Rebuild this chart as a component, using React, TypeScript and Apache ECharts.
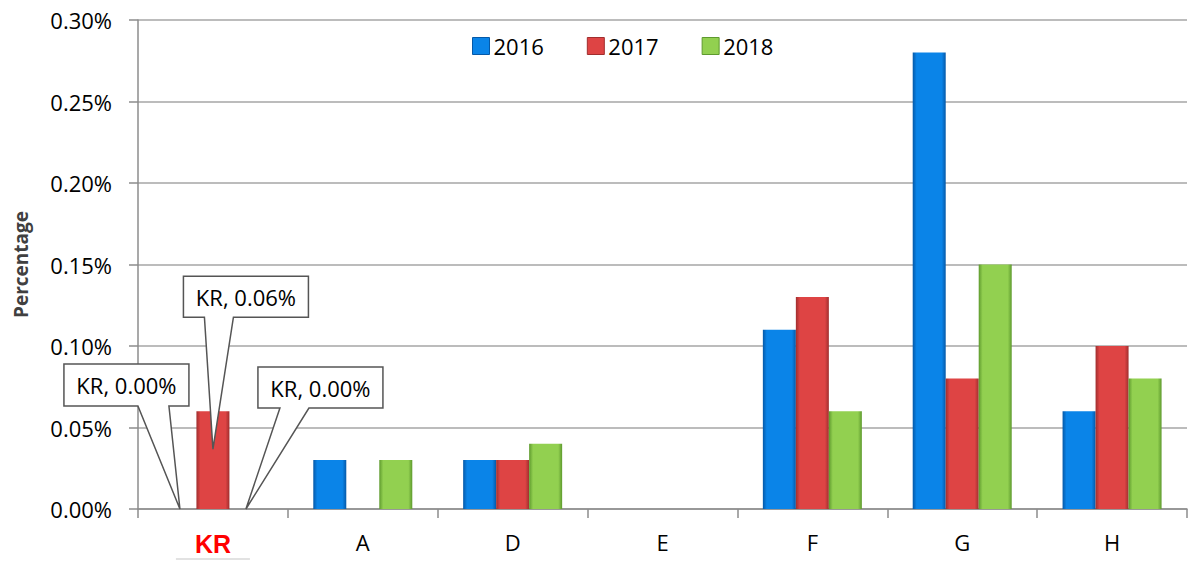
import React, { useEffect, useRef } from "react";
import * as echarts from "echarts";

const categories = ["KR", "A", "D", "E", "F", "G", "H"];
const seriesNames = ["2016", "2017", "2018"];
const values2016 = [0, 0.03, 0.03, 0, 0.11, 0.28, 0.06];
const values2017 = [0.06, 0, 0.03, 0, 0.13, 0.08, 0.1];
const values2018 = [0, 0.03, 0.04, 0, 0.06, 0.15, 0.08];
const yTicks = [0, 0.05, 0.1, 0.15, 0.2, 0.25, 0.3];

const FONT = "'Open Sans', 'Noto Sans', sans-serif";

const palettes = [
  { edge: "#0559A8", main: "#0A84E8", light: "#4AB0FF" },
  { edge: "#A02E2E", main: "#DE4444", light: "#F07070" },
  { edge: "#5E9A2E", main: "#92D050", light: "#B8EA80" },
];

function grad(p: { edge: string; main: string; light: string }) {
  return new echarts.graphic.LinearGradient(1, 0, 0, 0, [
    { offset: 0, color: p.edge },
    { offset: 0.12, color: p.main },
    { offset: 0.88, color: p.main },
    { offset: 1, color: p.edge },
  ]);
}

// callout definitions: series index, data index, box offsets relative to bar top (center x)
const callouts = [
  { s: 0, d: 0, text: "KR, 0.00%", box: [-116, -145, 125, 42], wedge: [-42, -11], tipDy: 0 },
  { s: 1, d: 0, text: "KR, 0.06%", box: [-29.5, -135, 125, 41], wedge: [-8.5, 20.5], tipDy: 38 },
  { s: 2, d: 0, text: "KR, 0.00%", box: [12, -142, 125, 41], wedge: [34, 63], tipDy: 0 },
];

export default function App() {
  const ref = useRef<HTMLDivElement>(null);
  useEffect(() => {
    if (!ref.current) return;
    const chart = echarts.init(ref.current, undefined, { renderer: "svg" });
    const data = [values2016, values2017, values2018];
    chart.setOption({
      animation: false,
      backgroundColor: "#ffffff",
      textStyle: { fontFamily: FONT },
      grid: { left: 138, right: 2, top: 20, bottom: 53, containLabel: false },
      legend: {
        data: seriesNames.map((n, i) => ({
          name: n,
          itemStyle: { color: palettes[i].main, borderColor: palettes[i].edge, borderWidth: 1 },
        })),
        left: 467,
        top: 30,
        itemWidth: 17,
        itemHeight: 17,
        itemGap: 43,
        icon: "rect",
        textStyle: { fontSize: 22, color: "#000", fontFamily: FONT, padding: [0, 0, 0, -1] },
      },
      xAxis: {
        type: "category",
        data: categories,
        axisLine: { lineStyle: { color: "#8c8c8c", width: 1.5 } },
        axisTick: { show: true, length: 9, lineStyle: { color: "#8c8c8c", width: 1.5 } },
        axisLabel: {
          fontSize: 22,
          color: "#000",
          margin: 22,
          fontFamily: FONT,
          formatter: (v: string) => (v === "KR" ? "{kr|" + v + "}" : v),
          rich: { kr: { color: "#ff0000", fontWeight: "bold", fontSize: 25, fontFamily: "'Liberation Sans', sans-serif" } },
        },
      },
      yAxis: {
        type: "value",
        min: 0,
        max: 0.3,
        interval: 0.05,
        name: "Percentage",
        nameLocation: "middle",
        nameGap: 108,
        nameTextStyle: { fontSize: 19, fontWeight: "bold", color: "#404040", fontFamily: FONT },
        axisLine: { show: true, lineStyle: { color: "#8c8c8c", width: 1.5 } },
        axisTick: { show: true, length: 9, lineStyle: { color: "#8c8c8c", width: 1.5 } },
        splitLine: { lineStyle: { color: "#a6a6a6", width: 1.5 } },
        axisLabel: {
          fontSize: 22,
          color: "#000",
          margin: 26,
          fontFamily: FONT,
          formatter: (v: number) => (yTicks.some((t) => Math.abs(t - v) < 1e-9) ? v.toFixed(2) + "%" : ""),
        },
      },
      series: seriesNames.map((name, i) => ({
        name,
        type: "bar",
        data: data[i],
        barWidth: 33,
        barGap: "0%",
        itemStyle: { color: grad(palettes[i]), borderWidth: 0 },
      })),
    });

    const model = (chart as any).getModel();
    const elements: any[] = [];
    callouts.forEach((c) => {
      const layout = model.getSeriesByIndex(c.s).getData().getItemLayout(c.d);
      const cx = layout.x + layout.width / 2;
      const top = layout.y + Math.min(0, layout.height);
      const [bx, by, bw, bh] = c.box;
      const left = cx + bx;
      const topY = top + by;
      const bottom = topY + bh;
      const right = left + bw;
      elements.push({
        type: "polygon",
        z: 100,
        shape: {
          points: [
            [left, topY],
            [right, topY],
            [right, bottom],
            [cx + c.wedge[1], bottom],
            [cx, top + c.tipDy],
            [cx + c.wedge[0], bottom],
            [left, bottom],
          ],
        },
        style: { fill: "#ffffff", stroke: "#555555", lineWidth: 1.5 },
      });
      elements.push({
        type: "text",
        z: 101,
        x: left + bw / 2,
        y: topY + bh / 2,
        style: {
          text: c.text,
          fontSize: 22,
          fontFamily: FONT,
          fill: "#000",
          align: "center",
          verticalAlign: "middle",
        },
      });
    });
    // faint underline under the highlighted KR category label
    const krX = chart.convertToPixel({ xAxisIndex: 0 }, "KR") as number;
    const baseY = chart.convertToPixel({ yAxisIndex: 0 }, 0) as number;
    elements.push({
      type: "line",
      shape: { x1: krX - 37, y1: baseY + 50, x2: krX + 37, y2: baseY + 50 },
      style: { stroke: "#d9d9d9", lineWidth: 1.5 },
    });
    chart.setOption({ graphic: elements });

    return () => chart.dispose();
  }, []);
  return (
    <div
      ref={ref}
      style={{ position: "absolute", left: 0, top: 0, width: 1189, height: 562 }}
    />
  );
}
